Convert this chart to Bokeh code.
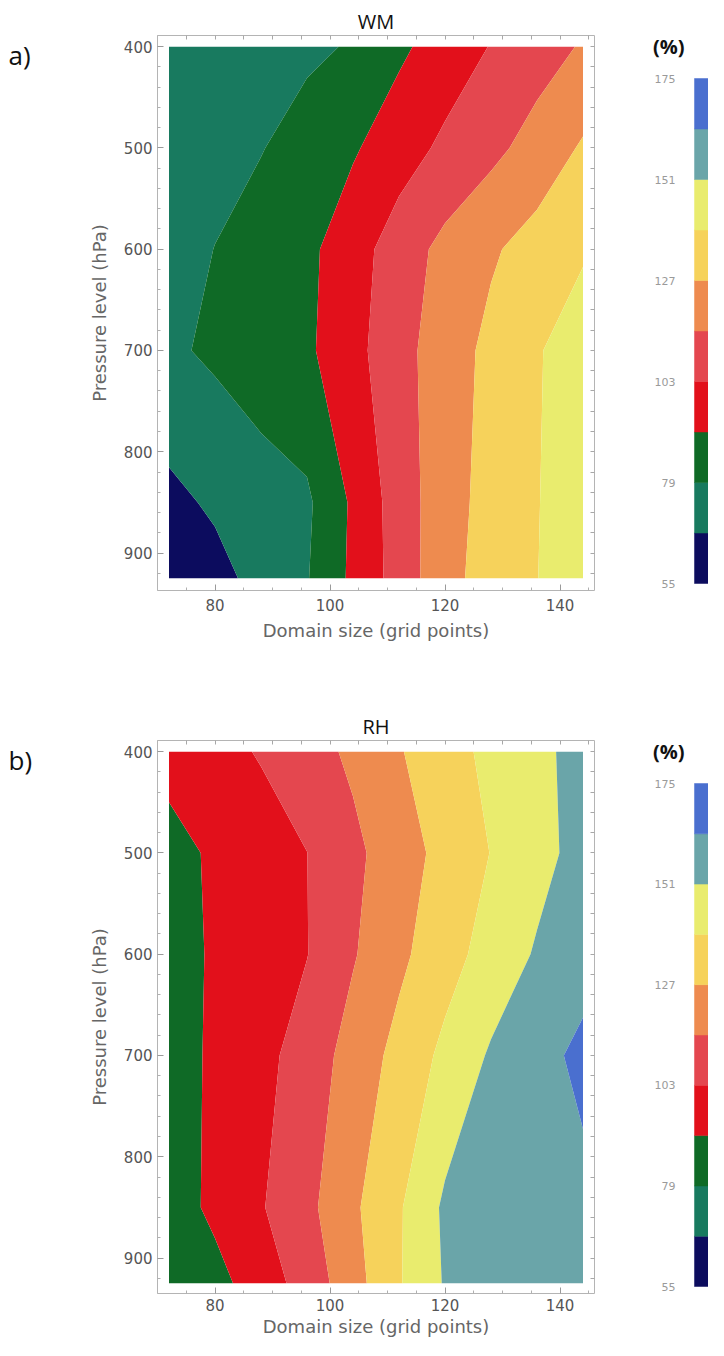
import numpy as np
from bokeh.plotting import figure
from bokeh.layouts import column, row
from bokeh.models import Range1d, LinearAxis, FixedTicker, Label
from bokeh.embed import file_html
from bokeh.resources import INLINE

# ---------------- data ----------------
domain_size = [72, 80, 88, 96, 104, 112, 120, 128, 136, 144]      # grid points
pressure_levels = [400, 500, 600, 700, 850, 925]                   # hPa

# WM field (%), one list per pressure level, values at domain_size
wm_400 = [70.0, 72.4, 74.6, 76.8, 80.0, 88.8, 96.3, 103.5, 109.8, 116.1]
wm_500 = [72.0, 75.3, 78.5, 83.9, 89.7, 97.6, 105.4, 111.9, 119.6, 128.4]
wm_600 = [74.0, 79.2, 84.1, 88.3, 97.9, 108.9, 118.3, 125.5, 131.7, 137.5]
wm_700 = [77.0, 81.1, 85.4, 89.0, 99.3, 110.9, 121.1, 130.0, 137.9, 146.0]
wm_850 = [64.0, 68.8, 73.6, 77.0, 92.9, 108.7, 122.1, 131.2, 138.5, 146.0]
wm_925 = [57.0, 63.2, 70.8, 78.3, 93.4, 107.9, 123.2, 131.9, 138.8, 146.0]

# RH field (%)
rh_400 = [95.0, 99.3, 103.9, 110.2, 117.2, 126.1, 134.4, 141.8, 148.3, 154.8]
rh_500 = [87.0, 92.8, 97.8, 102.9, 112.2, 121.6, 130.7, 139.3, 147.2, 155.0]
rh_600 = [87.0, 92.2, 97.5, 102.7, 114.0, 124.4, 134.3, 143.7, 152.2, 158.0]
rh_700 = [86.2, 92.8, 99.4, 108.3, 119.7, 130.7, 141.8, 152.4, 158.8, 166.0]
rh_850 = [85.2, 93.6, 102.1, 111.9, 124.9, 137.7, 153.0, 155.0, 157.5, 159.8]
rh_925 = [82.0, 87.2, 96.9, 107.9, 122.3, 138.0, 152.0, 154.0, 156.0, 158.0]

contour_levels = [55, 67, 79, 91, 103, 115, 127, 139, 151, 163, 175]
level_colors = ["#0c0c5e", "#187a5f", "#0f6a26", "#e2101b", "#e4474f",
                "#ee8b4f", "#f6d25b", "#e9ec6e", "#6aa5a9", "#4a6fcf"]
cbar_ticks = [55, 79, 103, 127, 151, 175]

x_major = [80, 100, 120, 140]
x_minor = [70, 75, 85, 90, 95, 105, 110, 115, 125, 130, 135, 145]
y_major = [400, 500, 600, 700, 800, 900]
y_minor = [420, 440, 460, 480, 520, 540, 560, 580, 620, 640, 660, 680,
           720, 740, 760, 780, 820, 840, 860, 880, 920]

TICK_FONT = "DejaVu Sans"
TEXT_FONT = "Open Sans"

# layout (pixels) -- every figure in a row shares the same top/bottom border
ROW1 = dict(height=695, top=35, frame=555, bottom=105, tick_off=8, lab_off=6)
ROW2 = dict(height=645, top=45, frame=553, bottom=47, tick_off=5, lab_off=2)
PX_PER_HPA = 1.0128
Y_TOP = 389.0
BAR_TOP_GAP = 43     # px from frame top to colour-bar top
BAR_BOTTOM_GAP = 7   # px from colour-bar bottom to frame bottom


def bare(fig, cfg):
    fig.min_border = 0
    fig.min_border_top = cfg["top"]
    fig.min_border_bottom = cfg["bottom"]
    fig.outline_line_color = None
    return fig


def style_axis(ax):
    ax.axis_line_color = "#b4b4b4"
    ax.major_tick_line_color = "#9a9a9a"
    ax.minor_tick_line_color = "#b0b0b0"
    ax.major_tick_in = 6
    ax.major_tick_out = 0
    ax.minor_tick_in = 3
    ax.minor_tick_out = 0
    ax.major_label_text_font = TICK_FONT
    ax.major_label_text_font_size = "15px"
    ax.major_label_text_color = "#555555"
    ax.axis_label_text_font = TICK_FONT
    ax.axis_label_text_font_size = "18px"
    ax.axis_label_text_font_style = "normal"
    ax.axis_label_text_color = "#666666"
    return ax


def tick_only_axis(marks):
    ax = LinearAxis(ticker=FixedTicker(ticks=[], minor_ticks=marks))
    ax.axis_line_color = "#b4b4b4"
    ax.minor_tick_line_color = "#a8a8a8"
    ax.minor_tick_in = 4
    ax.minor_tick_out = 0
    ax.major_tick_in = 0
    ax.major_tick_out = 0
    ax.major_label_standoff = 0
    ax.axis_label_standoff = 0
    return ax


def tag_panel(tag, cfg, page_top):
    # frame in page pixel coordinates, used only to hold the panel tag
    f_top = page_top + cfg["top"]
    t = figure(width=40, height=cfg["height"], x_range=Range1d(8, 48),
               y_range=Range1d(f_top + cfg["frame"], f_top), x_axis_type=None,
               y_axis_type=None, output_backend="svg", toolbar_location=None)
    bare(t, cfg)
    t.add_layout(Label(x=16, y=f_top + 19, text=tag, text_align="left",
                       text_baseline="middle", text_font=TEXT_FONT,
                       text_font_size="26px", text_color="#111111"))
    return t


def panel(title_text, rows, cfg):
    z = np.array(rows)
    y_bottom = Y_TOP + cfg["frame"] / PX_PER_HPA
    p = figure(width=572, height=cfg["height"], x_range=Range1d(70, 146),
               y_range=Range1d(y_bottom, Y_TOP), x_axis_type=None, y_axis_type=None,
               output_backend="svg", toolbar_location=None, title=title_text)
    bare(p, cfg)
    p.min_border_left = 117
    p.min_border_right = 18
    p.title.align = "center"
    p.title.text_font = TEXT_FONT
    p.title.text_font_size = "20px"
    p.title.text_font_style = "normal"
    p.title.text_color = "#111111"
    p.title.standoff = 2

    cr = p.contour(domain_size, pressure_levels, z, levels=contour_levels,
                   fill_color=level_colors, line_color=None)
    g = cr.fill_renderer.glyph
    g.line_color = g.fill_color
    g.line_width = 0.7

    bx = style_axis(LinearAxis(ticker=FixedTicker(ticks=x_major, minor_ticks=x_minor)))
    bx.axis_label = "Domain size (grid points)"
    bx.major_label_standoff = cfg["tick_off"]
    bx.axis_label_standoff = cfg["lab_off"]
    p.add_layout(bx, "below")

    ly = style_axis(LinearAxis(ticker=FixedTicker(ticks=y_major, minor_ticks=y_minor)))
    ly.axis_label = "Pressure level (hPa)"
    ly.major_label_standoff = 5
    ly.axis_label_standoff = 11
    p.add_layout(ly, "left")

    p.add_layout(tick_only_axis(x_major + x_minor), "above")
    p.add_layout(tick_only_axis(y_major + y_minor), "right")
    return p


def colorbar(cfg):
    lo, hi = contour_levels[0], contour_levels[-1]
    ppu = (cfg["frame"] - BAR_TOP_GAP - BAR_BOTTOM_GAP) / (hi - lo)
    cb = figure(width=96, height=cfg["height"], x_range=Range1d(-5.857, 1),
                y_range=Range1d(lo - BAR_BOTTOM_GAP / ppu, hi + BAR_TOP_GAP / ppu),
                x_axis_type=None, y_axis_type=None,
                output_backend="svg", toolbar_location=None)
    bare(cb, cfg)
    cb.quad(left=0, right=1, bottom=contour_levels[:-1], top=contour_levels[1:],
            fill_color=level_colors, line_color=level_colors, line_width=0.5)
    ax = LinearAxis(ticker=FixedTicker(ticks=cbar_ticks), fixed_location=0)
    ax.axis_line_color = None
    ax.major_tick_line_color = None
    ax.minor_tick_line_color = None
    ax.major_tick_in = 0
    ax.major_tick_out = 0
    ax.major_label_standoff = 19
    ax.major_label_text_font = TICK_FONT
    ax.major_label_text_font_size = "11px"
    ax.major_label_text_color = "#9a9a9a"
    cb.add_layout(ax, "left")
    cb.add_layout(Label(x=-0.714, y=hi + (BAR_TOP_GAP - 11) / ppu, text="(%)",
                        text_align="right", text_baseline="middle",
                        text_font=TEXT_FONT, text_font_size="20px",
                        text_font_style="bold", text_color="#111111"))
    return cb


wm_rows = [wm_400, wm_500, wm_600, wm_700, wm_850, wm_925]
rh_rows = [rh_400, rh_500, rh_600, rh_700, rh_850, rh_925]

top_row = row(tag_panel("a)", ROW1, 8), panel("WM", wm_rows, ROW1), colorbar(ROW1))
bottom_row = row(tag_panel("b)", ROW2, 8 + ROW1["height"]), panel("RH", rh_rows, ROW2),
                 colorbar(ROW2))
layout = column(top_row, bottom_row)

with open("out.html", "w") as f:
    f.write(file_html(layout, INLINE))
